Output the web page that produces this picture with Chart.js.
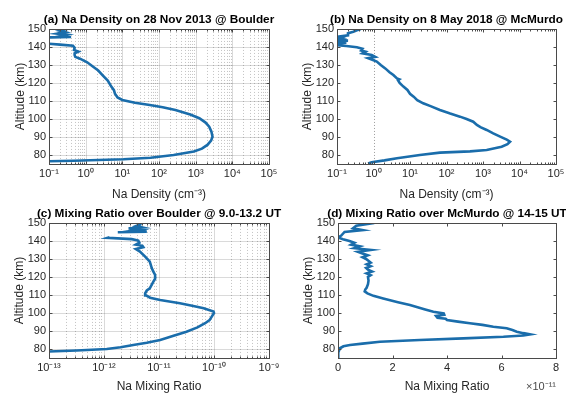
<!DOCTYPE html>
<html><head><meta charset="utf-8">
<script src="https://cdn.jsdelivr.net/npm/chart.js@4"></script>
<style>
html,body{margin:0;padding:0;background:#fff;overflow:hidden;}
#wrap{position:relative;width:566px;height:394px;overflow:hidden;background:#fff;}
canvas{position:absolute;}
</style></head><body>
<div id="wrap">
<canvas id="ca" width="318" height="204" style="left:0;top:0"></canvas>
<canvas id="cb" width="327" height="204" style="left:283px;top:0"></canvas>
<canvas id="cc" width="318" height="190" style="left:0;top:204px"></canvas>
<canvas id="cd" width="328" height="190" style="left:283px;top:204px"></canvas>
</div>
<script>
// ---------- data ----------
const altA = [76.3,76.5,76.8,77.6,78.5,80.0,81.9,83.5,85.6,88.0,90.2,93.0,95.7,98.0,100.4,102.5,105.0,106.5,107.8,109.0,110.6,112.0,114.0,116.0,118.0,121.3,124.0,126.9,129.0,131.5,133.5,134.5,135.5,136.5,137.4,138.3,139.5,140.7,141.3,141.8,142.2,144.8,145.3,145.5,146.0,146.8,147.4,148.2,149.0,149.6,150.2];
const densA = [0.05,0.1,0.47,10.7,59,250,890,1480,2090,2630,2880,2690,2340,1860,1260,710,280,126,56,22,10,7.4,6.3,5.9,5.0,4.0,3.0,2.2,1.6,1.1,0.7,0.52,0.5,0.5,0.63,0.48,0.5,0.45,0.2,0.1,0.04,0.04,0.11,0.4,0.2,0.3,0.17,0.28,0.2,0.26,0.22];

const altB = [75.3,76.0,77.0,78.2,80.0,81.3,82.0,82.8,84.6,86.0,87.4,88.5,90.2,92.0,93.9,95.5,96.7,98.5,100.0,101.3,103.0,105.0,107.0,108.7,110.5,112.4,114.0,116.1,118.0,120.0,121.5,122.0,122.5,124.4,126.0,128.1,130.0,131.9,133.0,133.8,134.5,135.6,136.5,137.4,138.0,139.0,139.8,140.5,141.0,141.7,142.3,142.9,143.5,144.2,145.0,145.7,146.5,147.6,148.5,149.3,150.0];
const densB = [0.71,0.89,2.0,4.4,18.6,66,440,1260,3240,4680,5500,4470,2950,1910,1260,850,680,540,355,234,126,66,38,23,15.8,12.6,10,8.5,6.6,5.2,4.7,5.1,4.4,3.5,2.75,2.1,1.58,1.23,0.89,0.71,1.12,0.89,0.5,0.6,0.46,0.5,0.35,0.18,0.09,0.08,0.18,0.08,0.2,0.09,0.14,0.11,0.2,0.2,0.28,0.35,0.45];

const altC = [78.3,78.6,79.2,80.0,81.0,82.2,83.5,85.0,87.2,89.6,92.0,94.3,96.0,98.0,100.0,100.8,102.6,104.0,105.4,107.2,108.5,109.8,110.9,112.5,113.7,117.4,119.0,121.1,123.0,124.8,128.5,131.3,134.1,135.5,136.5,137.3,138.0,139.0,140.2,141.0,141.7,142.0,null,144.8,145.2,145.6,146.3,147.0,147.5,148.3,149.2,150.2];
const mixC = [6.3e-14,1.0e-13,3.2e-13,1.12e-12,2.0e-12,3.4e-12,6.0e-12,1.05e-11,1.78e-11,3.16e-11,5.0e-11,6.9e-11,8.3e-11,9.1e-11,1.0e-10,9.8e-11,6.5e-11,4.0e-11,2.4e-11,1.05e-11,6.9e-12,5.8e-12,5.6e-12,6.0e-12,6.8e-12,7.9e-12,8.5e-12,8.5e-12,7.9e-12,7.4e-12,6.8e-12,5.6e-12,4.5e-12,3.8e-12,5.2e-12,5.0e-12,3.8e-12,4.4e-12,4.2e-12,3.2e-12,1.17e-12,1.26e-12,null,1.78e-12,6.0e-12,3.2e-12,4.5e-12,2.8e-12,5.0e-12,3.8e-12,4.5e-12,4.2e-12];

const altD = [75.0,78.0,80.4,81.5,82.2,83.0,84.0,85.0,85.9,86.8,87.5,88.1,88.8,89.6,90.5,91.5,92.4,93.4,94.3,95.2,96.1,96.8,97.4,98.3,99.0,99.8,100.7,102.0,104.4,106.0,108.1,109.5,110.9,112.0,113.0,114.0,116.0,118.0,120.0,121.0,122.0,123.0,124.0,125.0,126.0,127.0,128.0,130.0,131.0,132.0,133.0,134.0,135.0,136.0,137.0,138.0,139.0,140.0,141.0,142.0,143.0,145.0,146.0,147.0,148.5,150.0];
const mixD = [0,0.01e-11,0.07e-11,0.2e-11,0.44e-11,0.9e-11,1.54e-11,3.0e-11,4.6e-11,6.07e-11,6.8e-11,7.05e-11,6.8e-11,6.56e-11,6.4e-11,6.19e-11,5.7e-11,5.3e-11,4.84e-11,4.4e-11,4.0e-11,3.95e-11,3.65e-11,3.6e-11,3.9e-11,3.88e-11,3.5e-11,3.2e-11,2.64e-11,2.2e-11,1.66e-11,1.3e-11,1.08e-11,0.98e-11,1.0e-11,1.05e-11,1.1e-11,1.12e-11,1.1e-11,1.2e-11,1.05e-11,1.25e-11,1.1e-11,1.03e-11,1.2e-11,1.05e-11,1.2e-11,1.03e-11,0.9e-11,1.09e-11,0.9e-11,0.73e-11,1.21e-11,0.6e-11,0.8e-11,0.48e-11,0.6e-11,0.42e-11,0.18e-11,0.0,0.12e-11,0.24e-11,0.9e-11,0.55e-11,0.67e-11,1.33e-11];

// ---------- ticks / labels ----------
const altTicks = [80,90,100,110,120,130,140,150];
const densTicks = [1e-1,1e0,1e1,1e2,1e3,1e4,1e5];
const densTickLabels = ['10\u207B\u00B9','10\u2070','10\u00B9','10\u00B2','10\u00B3','10\u2074','10\u2075'];
const mixLogTicks = [1e-13,1e-12,1e-11,1e-10,1e-9];
const mixLogTickLabels = ['10\u207B\u00B9\u00B3','10\u207B\u00B9\u00B2','10\u207B\u00B9\u00B9','10\u207B\u00B9\u2070','10\u207B\u2079'];
const mixLinTicks = [0,2e-11,4e-11,6e-11,8e-11];
const mixLinTickLabels = ['0','2','4','6','8'];
const titleA = '(a) Na Density on 28 Nov 2013 @ Boulder';
const titleB = '(b) Na Density on 8 May 2018 @ McMurdo';
const titleC = '(c) Mixing Ratio over Boulder @ 9.0-13.2 UT';
const titleD = '(d) Mixing Ratio over McMurdo @ 14-15 UT';
const densLabel = 'Na Density (cm\u207B\u00B3)';
const mixLabel = 'Na Mixing Ratio';
const altLabel = 'Altitude (km)';
const expLabel = '\u00D710\u207B\u00B9\u00B9';

// ---------- helpers ----------
Chart.defaults.font.family = '"Liberation Sans", Arial, Helvetica, sans-serif';
Chart.defaults.color = '#262626';
const LINE = '#1a6dab';
const AX = '#262626';
const BOX = '#4a4a4a';

function minorLog(decades) {
  const out = [];
  for (let i = 0; i < decades.length - 1; i++)
    for (let m = 2; m <= 9; m++) out.push(decades[i] * m);
  return out;
}

function seg(ctx, x1, y1, x2, y2) { ctx.beginPath(); ctx.moveTo(x1, y1); ctx.lineTo(x2, y2); ctx.stroke(); }

function axesPlugin(spec) {
  return {
    id: 'mbox',
    beforeDatasetsDraw(chart) {
      const {ctx, chartArea: a, scales} = chart;
      const x = scales.x, y = scales.y;
      const px = v => Math.round(x.getPixelForValue(v)) + 0.5;
      const py = v => Math.round(y.getPixelForValue(v)) + 0.5;
      ctx.save();
      ctx.lineWidth = 1;
      if (spec.grid) {
        ctx.strokeStyle = 'rgba(38,38,38,0.28)';
        ctx.setLineDash([1, 2]);
        spec.xMinor.forEach(v => { const p = px(v); seg(ctx, p, a.top, p, a.bottom); });
        ctx.setLineDash([]);
        ctx.strokeStyle = 'rgba(38,38,38,0.17)';
        spec.xMajor.forEach(v => { const p = px(v); seg(ctx, p, a.top, p, a.bottom); });
        altTicks.forEach(v => { const p = py(v); seg(ctx, a.left, p, a.right, p); });
      }
      if (spec.vline != null) {
        ctx.strokeStyle = 'rgba(38,38,38,0.45)';
        ctx.setLineDash([1, 2]);
        const p = px(spec.vline); seg(ctx, p, a.top, p, a.bottom);
        ctx.setLineDash([]);
      }
      ctx.restore();
    },
    afterDatasetsDraw(chart) {
      const {ctx, chartArea: a, scales} = chart;
      const x = scales.x, y = scales.y;
      const px = v => Math.round(x.getPixelForValue(v)) + 0.5;
      const py = v => Math.round(y.getPixelForValue(v)) + 0.5;
      const L = Math.round(a.left) + 0.5, R = Math.round(a.right) + 0.5;
      const T = Math.round(a.top) + 0.5, B = Math.round(a.bottom) + 0.5;
      ctx.save();
      ctx.lineWidth = 1;
      ctx.strokeStyle = BOX;
      ctx.strokeRect(L, T, R - L, B - T);
      const tl = 3, tm = 2;
      spec.xMajor.forEach(v => { const p = px(v); seg(ctx, p, B, p, B - tl); seg(ctx, p, T, p, T + tl); });
      if (spec.minorTicks) spec.xMinor.forEach(v => { const p = px(v); seg(ctx, p, B, p, B - tm); seg(ctx, p, T, p, T + tm); });
      altTicks.forEach(v => { const p = py(v); seg(ctx, L, p, L + tl, p); seg(ctx, R, p, R - tl, p); });
      if (spec.exponent) {
        ctx.fillStyle = '#4a4a4a';
        ctx.font = '11px "Liberation Sans", Arial, sans-serif';
        ctx.textAlign = 'right';
        ctx.textBaseline = 'middle';
        ctx.fillText(spec.exponent, a.right, a.bottom + 29);
      }
      ctx.restore();
    }
  };
}

function makeChart(id, c) {
  const data = c.alt.map((h, i) => ({x: c.val[i] === null ? NaN : c.val[i], y: h === null ? NaN : h}));
  return new Chart(document.getElementById(id), {
    type: 'scatter',
    data: {datasets: [{
      data, xAxisID: 'x', yAxisID: 'y', showLine: true, spanGaps: false,
      borderColor: LINE, backgroundColor: LINE, borderWidth: 2.6,
      pointRadius: 0, pointHoverRadius: 0, tension: 0, clip: 0
    }]},
    options: {
      responsive: false, animation: false, devicePixelRatio: 1,
      events: [],
      layout: {padding: 0},
      plugins: {
        legend: {display: false}, tooltip: {enabled: false},
        title: {display: true, text: c.title, color: '#000', fullSize: true,
          font: {size: 11.8, weight: 'bold'}, padding: {top: c.tpt, bottom: c.tpb}}
      },
      scales: {
        x: {
          type: c.log ? 'logarithmic' : 'linear', min: c.xmin, max: c.xmax,
          afterBuildTicks: s => { s.ticks = c.xTicks.map(v => ({value: v})); },
          afterFit: s => { s.height = c.xh; },
          grid: {display: false, drawTicks: false}, border: {display: false},
          ticks: {padding: 3, autoSkip: false, maxRotation: 0, minRotation: 0,
            font: {size: 11}, color: AX, callback: (v, i) => c.xLabels[i]},
          title: {display: true, text: c.xTitle, color: AX, font: {size: 12},
            padding: {top: 0, bottom: c.xtb}}
        },
        y: {
          type: 'linear', position: 'left', min: 75, max: 150,
          afterBuildTicks: s => { s.ticks = altTicks.map(v => ({value: v})); },
          afterFit: s => { s.width = c.yw; },
          grid: {display: false, drawTicks: false}, border: {display: false},
          ticks: {padding: 3, font: {size: 11}, color: AX, callback: v => String(v)},
          title: {display: true, text: altLabel, color: AX, font: {size: 12},
            padding: {top: c.ytp, bottom: 0}}
        },
        y2: {
          type: 'linear', position: 'right', display: true,
          afterFit: s => { s.width = c.yw; },
          grid: {display: false, drawTicks: false}, border: {display: false},
          ticks: {display: false}
        }
      }
    },
    plugins: [axesPlugin(c.axes)]
  });
}

makeChart('ca', {alt: altA, val: densA, title: titleA, log: true, xmin: 0.1, xmax: 1e5,
  xTicks: densTicks, xLabels: densTickLabels, xTitle: densLabel,
  yw: 49, xh: 40, tpt: 12.9, tpb: 1.9, xtb: 2.5, ytp: 13.8,
  axes: {grid: true, xMajor: densTicks, xMinor: minorLog(densTicks), minorTicks: true}});

makeChart('cb', {alt: altB, val: densB, title: titleB, log: true, xmin: 0.1, xmax: 1e5,
  xTicks: densTicks, xLabels: densTickLabels, xTitle: densLabel,
  yw: 54, xh: 40, tpt: 12.9, tpb: 1.9, xtb: 2.5, ytp: 17.8,
  axes: {grid: false, vline: 1, xMajor: densTicks, xMinor: minorLog(densTicks), minorTicks: true}});

makeChart('cc', {alt: altC, val: mixC, title: titleC, log: true, xmin: 1e-13, xmax: 1e-9,
  xTicks: mixLogTicks, xLabels: mixLogTickLabels, xTitle: mixLabel,
  yw: 49, xh: 36, tpt: 2.9, tpb: 1.9, xtb: 0, ytp: 12.8,
  axes: {grid: true, xMajor: mixLogTicks, xMinor: minorLog(mixLogTicks), minorTicks: true}});

makeChart('cd', {alt: altD, val: mixD, title: titleD, log: false, xmin: 0, xmax: 8e-11,
  xTicks: mixLinTicks, xLabels: mixLinTickLabels, xTitle: mixLabel,
  yw: 55, xh: 36, tpt: 2.9, tpb: 1.9, xtb: 0, ytp: 18.8,
  axes: {grid: false, xMajor: mixLinTicks, xMinor: [], minorTicks: false, exponent: expLabel}});
</script>
</body></html>
